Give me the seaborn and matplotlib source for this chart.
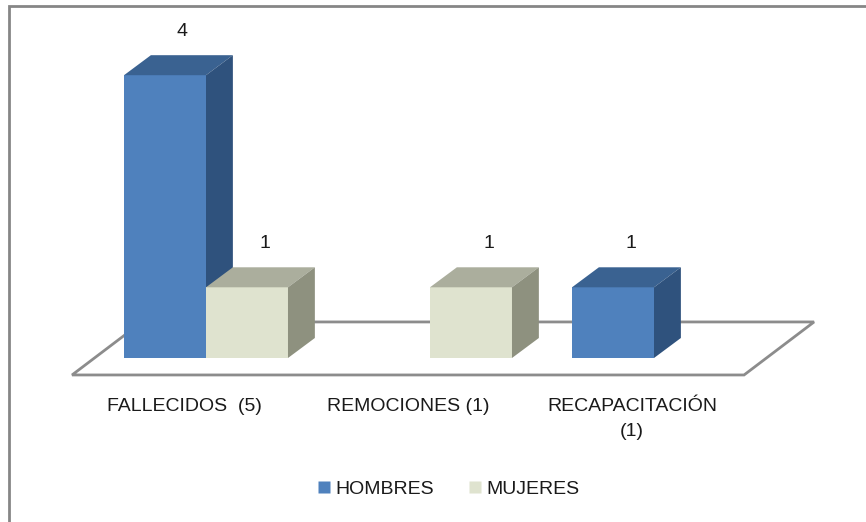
import numpy as np
import pandas as pd
import matplotlib.pyplot as plt
import seaborn as sns
from matplotlib.patches import Polygon, Rectangle
from matplotlib.lines import Line2D

categories = ["FALLECIDOS  (5)", "REMOCIONES (1)", "RECAPACITACIÓN\n(1)"]
series = ["HOMBRES", "MUJERES"]
hombres = [4, 0, 1]
mujeres = [1, 1, 0]

front_colors = {"HOMBRES": "#4F81BD", "MUJERES": "#DFE3CF"}
top_colors = {"HOMBRES": "#3A6291", "MUJERES": "#ABAE9D"}
side_colors = {"HOMBRES": "#2F527D", "MUJERES": "#8E917F"}

# depth of the fake 3d look, in data units
DX, DY = 0.12, 0.283
# offset of bar fronts behind the front floor edge
FX, FY = 0.098, 0.24
# full floor depth
GX, GY = 0.3125, 0.75

df = pd.DataFrame({
    "categoria": categories * 2,
    "serie": ["HOMBRES"] * 3 + ["MUJERES"] * 3,
    "valor": hombres + mujeres,
})

sns.set_style("white")
plt.rcParams["font.family"] = ["Liberation Sans", "DejaVu Sans"]

W, H = 866, 522
PX_X, PX_Y = 224, 70.7
fig = plt.figure(figsize=(W / 100, H / 100), dpi=100)
# axes placed so that 1 category = 224 px and 1 unit = ~71 px
x0, x1 = -0.8, 2.8
y0, y1 = -0.5, 5.0
left_px = 206 + x0 * PX_X
bottom_px = (H - 358) + y0 * PX_Y
ax = fig.add_axes([left_px / W, bottom_px / H, (x1 - x0) * PX_X / W, (y1 - y0) * PX_Y / H])

sns.barplot(data=df, x="categoria", y="valor", hue="serie", hue_order=series,
            palette=front_colors, width=0.732, gap=0, saturation=1,
            order=categories, ax=ax, legend=False, edgecolor="none", linewidth=0)
ax.set_xlim(x0, x1)
ax.set_ylim(y0, y1)
ax.set_axis_off()

# floor
fl = -0.5 - FX
fr = len(categories) - 0.5 - FX
floor = Polygon([(fl, -FY), (fr, -FY), (fr + GX, -FY + GY), (fl + GX, -FY + GY)],
                closed=True, facecolor="white", edgecolor="#8C8C8C", linewidth=2, zorder=1)
ax.add_patch(floor)

# tops, sides and labels for each bar
bars = [p for p in ax.patches if isinstance(p, Rectangle) and p is not floor]
n = len(categories)
for i, bar in enumerate(bars):
    name = series[i // n]
    h = bar.get_height()
    if not h or np.isnan(h):
        bar.set_visible(False)
        continue
    x = bar.get_x()
    w = bar.get_width()
    z = 2 + x
    bar.set_zorder(z)
    top = Polygon([(x, h), (x + w, h), (x + w + DX, h + DY), (x + DX, h + DY)],
                  closed=True, facecolor=top_colors[name], edgecolor="none", zorder=z)
    side = Polygon([(x + w, 0), (x + w + DX, DY), (x + w + DX, h + DY), (x + w, h)],
                   closed=True, facecolor=side_colors[name], edgecolor="none", zorder=z)
    ax.add_patch(top)
    ax.add_patch(side)
    ax.text(x + w / 2 + DX * 0.65, h + 0.62, f"{h:.0f}", ha="center", va="center",
            fontsize=14, color="#1A1A1A", zorder=10)

# category labels along the front edge of the floor
for k, cat in enumerate(categories):
    ax.text(k - FX, -0.57, cat, ha="center", va="top", fontsize=14,
            color="#1A1A1A", linespacing=1.6, clip_on=False)

handles = [Line2D([], [], marker="s", linestyle="none", markersize=9,
                  markerfacecolor=front_colors[s], markeredgecolor="none") for s in series]
fig.legend(handles, series, loc="center", bbox_to_anchor=(448 / W, 1 - 489 / H),
           ncol=2, frameon=False, fontsize=14, handletextpad=0.2, columnspacing=1.7,
           handlelength=0.8, labelcolor="#1A1A1A")

# chart border (only top and left edge visible in the frame)
fig.patches.append(Rectangle((9 / W, -0.2), 1.2, 1.2 - 6 / H, transform=fig.transFigure,
                             fill=False, edgecolor="#868686", linewidth=2))

fig.savefig("out.png", dpi=100)
